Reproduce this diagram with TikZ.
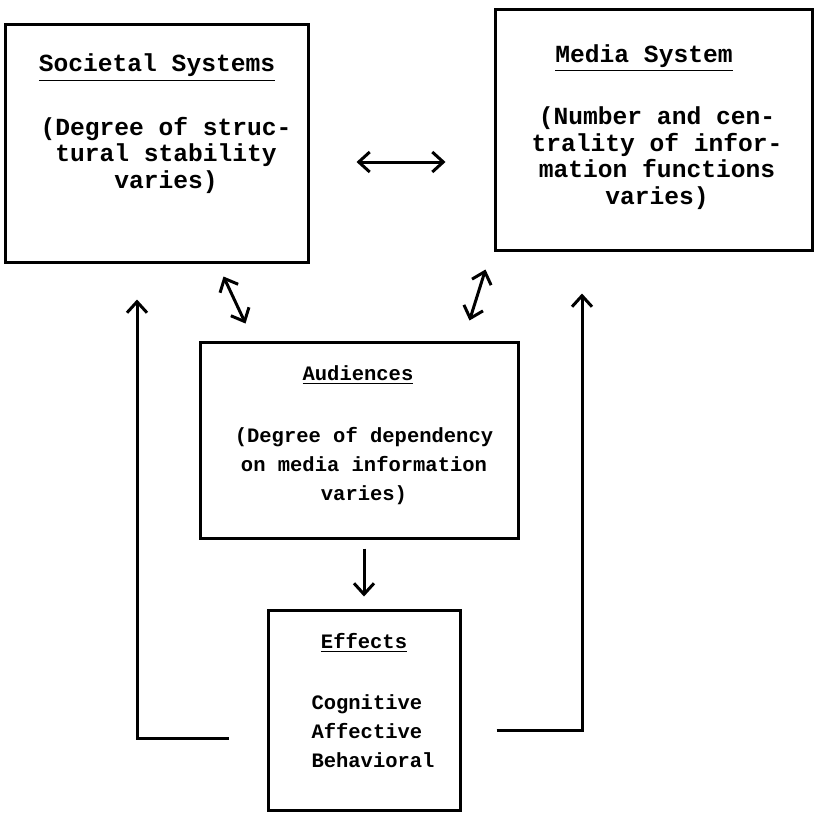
\documentclass[tikz,border=0pt]{standalone}
\usepackage{fontspec}
\setmonofont{Liberation Mono}
\usetikzlibrary{arrows.meta}

\begin{document}
\begin{tikzpicture}[x=0.5pt,y=-0.5pt,line width=1.5pt,
  >={Straight Barb[length=5.5pt,width=10pt,line width=1.5pt]},
  box/.style={draw,line width=1.5pt,inner sep=0pt},
  bigtype/.style={font=\ttfamily\bfseries\fontsize{12.3}{13.2}\selectfont,align=center,inner sep=0pt,anchor=base},
  smalltype/.style={font=\ttfamily\bfseries\fontsize{10.25}{14.5}\selectfont,align=center,inner sep=0pt,anchor=base}]
\useasboundingbox (0,0) rectangle (817,813);
  \node[box,minimum width=151.5pt,minimum height=118.5pt] (soc) at (156.5,143.5) {};
  \node[box,minimum width=158.5pt,minimum height=120pt] (med) at (653.5,130) {};
  \node[box,minimum width=159pt,minimum height=98pt] (aud) at (359,440) {};
  \node[box,minimum width=96pt,minimum height=100pt] (eff) at (364,710) {};
  \node[bigtype] (soctitle) at (157,72) {\underline{Societal Systems}};
  \node[bigtype] (socbody) at (166,188) {(Degree of struc-\\tural stability\\varies)};
  \node[bigtype] (medtitle) at (644,62) {\underline{Media System}};
  \node[bigtype] (medbody) at (657,204) {(Number and cen-\\trality of infor-\\mation functions\\varies)};
  \node[smalltype] (audtitle) at (358,380) {\underline{Audiences}};
  \node[smalltype] (audbody) at (364,500) {(Degree of dependency\\on media information\\varies)};
  \node[smalltype] (efftitle) at (364,648) {\underline{Effects}};
  \node[smalltype,align=left,anchor=base west] (effbody) at (310,767) {Cognitive\\Affective\\Behavioral};
  \coordinate (h) at ([yshift=-9.25pt]soc.east);
  \draw[<->,shorten <=23.5pt,shorten >=24pt] (h) -- (h -| med.west);
  \draw[<->] ([shift={(-43pt,-6.5pt)}]soc.south east) -- ([shift={(23.5pt,8.5pt)}]aud.north west);
  \draw[<->] ([shift={(-4pt,-9pt)}]med.south west) -- ([shift={(-25pt,10pt)}]aud.north east);
  \draw[->,shorten <=4.5pt,shorten >=6pt] (aud.south -| eff.north) -- (eff.north);
  \coordinate (lstart) at ([shift={(-19pt,-14pt)}]eff.west);
  \coordinate (lend) at ([shift={(-9.75pt,-18pt)}]soc.south);
  \draw[->] (lstart) -| (lend);
  \coordinate (rstart) at ([shift={(17.5pt,-10pt)}]eff.east);
  \coordinate (rend) at ([shift={(-35.75pt,-21pt)}]med.south);
  \draw[->] (rstart) -| (rend);
\end{tikzpicture}
\end{document}
